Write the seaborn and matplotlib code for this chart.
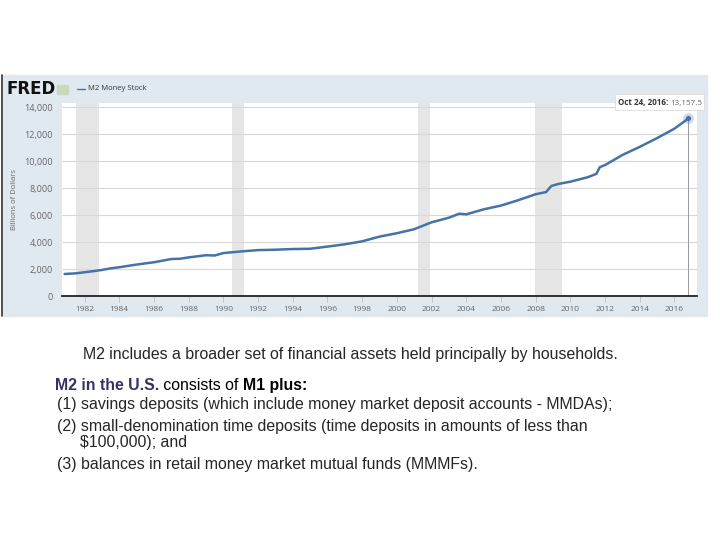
import matplotlib
matplotlib.use("Agg")
import matplotlib.pyplot as plt
import seaborn as sns
import pandas as pd
from matplotlib.patches import Rectangle
from matplotlib.lines import Line2D

# M2 money stock, billions of dollars
years = [1980.85, 1981.5, 1982.0, 1982.5, 1983.0, 1983.5, 1984.0, 1985.0, 1986.0,
         1987.0, 1987.5, 1988.0, 1989.0, 1989.5, 1990.0, 1991.0, 1992.0, 1993.0,
         1994.0, 1995.0, 1996.0, 1997.0, 1998.0, 1999.0, 2000.0, 2001.0, 2002.0,
         2003.0, 2003.6, 2004.0, 2005.0, 2006.0, 2007.0, 2008.0, 2008.6, 2008.9,
         2009.3, 2010.0, 2011.0, 2011.5, 2011.7, 2012.0, 2013.0, 2014.0, 2015.0,
         2016.0, 2016.81]
m2 = [1630, 1680, 1760, 1840, 1930, 2050, 2130, 2330, 2500,
      2740, 2760, 2860, 3020, 3000, 3180, 3300, 3400, 3430,
      3480, 3500, 3660, 3830, 4050, 4400, 4650, 4950, 5460,
      5800, 6100, 6050, 6420, 6700, 7100, 7540, 7700, 8150,
      8300, 8470, 8800, 9050, 9550, 9700, 10450, 11050, 11700,
      12400, 13157.5]

recession_starts = [1981.5, 1990.5, 2001.2, 2007.95]
recession_ends = [1982.85, 1991.2, 2001.9, 2009.5]

x_ticks = list(range(1982, 2017, 2))
y_ticks = [0, 2000, 4000, 6000, 8000, 10000, 12000, 14000]

series_name = "M2 Money Stock"
y_label = "Billions of Dollars"
tooltip_date = "Oct 24, 2016:"
tooltip_value = "13,157.5"

df = pd.DataFrame({"year": years, "m2": m2})

sns.set_style("white")
plt.rcParams["font.family"] = ["Open Sans", "DejaVu Sans"]

W, H = 720, 540
fig = plt.figure(figsize=(7.2, 5.4), dpi=100)


def fx(px):
    return px / W


def fy(py):
    return 1 - py / H


# light blue FRED panel behind the chart
fig.patches.append(Rectangle((fx(3), fy(316)), fx(704), (316 - 75) / H,
                             transform=fig.transFigure, color="#e1e9f0", zorder=-10))
fig.lines.append(Line2D([fx(2), fx(2)], [fy(75), fy(316)], transform=fig.transFigure,
                        color="#333333", lw=1.2, zorder=-5))

ax = fig.add_axes([fx(62), fy(296), fx(635), (296 - 103) / H])
ax.set_zorder(2)
ax.set_facecolor("white")

for s, e in zip(recession_starts, recession_ends):
    ax.axvspan(s, e, color="#e6e6e6", lw=0, zorder=0)

sns.lineplot(data=df, x="year", y="m2", ax=ax, color="#4572a7", lw=1.8, zorder=3)

# crosshair and highlighted last point
last_x, last_y = years[-1], m2[-1]
ax.plot([last_x, last_x], [0, last_y], color="#999999", lw=0.7, zorder=2)
ax.scatter([last_x], [last_y], s=60, color="#4572a7", alpha=0.25, lw=0, zorder=4)
ax.scatter([last_x], [last_y], s=14, color="#4572a7", lw=0, zorder=5)

ax.set_xlim(1980.7, 2017.3)
ax.set_ylim(0, 14300)
ax.set_xticks(x_ticks)
ax.set_xticklabels([str(t) for t in x_ticks])
ax.set_yticks(y_ticks)
ax.set_yticklabels([f"{v:,}" for v in y_ticks])
ax.grid(axis="y", color="#d8d8d8", lw=0.8)
ax.set_axisbelow(True)
for side in ["top", "right", "left"]:
    ax.spines[side].set_visible(False)
ax.spines["bottom"].set_color("#222222")
ax.spines["bottom"].set_linewidth(1.3)
ax.tick_params(axis="x", length=4, width=0.6, color="#bbbbbb", labelsize=6,
               labelcolor="#666666", pad=3, bottom=True)
ax.tick_params(axis="y", length=0, labelsize=6.5, labelcolor="#666666", pad=6.5)
ax.set_xlabel("")
ax.set_ylabel("")

fig.text(fx(15), fy(200), y_label, rotation=90, ha="center", va="center",
         fontsize=5.5, color="#666666")

# FRED header
fig.text(fx(6), fy(89), "FRED", fontsize=12, fontweight="heavy", color="#111111",
         va="center", ha="left", family=["DejaVu Sans"])
fig.patches.append(Rectangle((fx(57), fy(94)), fx(11), 9 / H, transform=fig.transFigure,
                             color="#c9d9c0", zorder=1))
fig.lines.append(Line2D([fx(77), fx(85)], [fy(89), fy(89)], transform=fig.transFigure,
                        color="#4572a7", lw=1))
fig.text(fx(88), fy(89), series_name, fontsize=5.5, color="#333333", va="center", ha="left")

# tooltip
fig.patches.append(Rectangle((fx(615), fy(110)), fx(89), 16 / H, transform=fig.transFigure,
                             facecolor="white", edgecolor="#dddddd", lw=0.6, zorder=5))
fig.canvas.draw()
renderer = fig.canvas.get_renderer()


def runs(x_px, y_px, parts, size, family=None):
    # consecutive text pieces sharing one baseline
    x = x_px
    for txt, weight, color in parts:
        kw = {}
        if family:
            kw["family"] = family
        t = fig.text(fx(x), fy(y_px), txt, fontsize=size, fontweight=weight, color=color,
                     va="baseline", ha="left", zorder=6, **kw)
        bb = t.get_window_extent(renderer=renderer)
        x = x + bb.width
    return x


runs(618, 105, [(tooltip_date + " ", "bold", "#333333"), (tooltip_value, "normal", "#666666")], 5.8)

# explanatory text
body_font = ["Liberation Sans", "DejaVu Sans"]
fs = 11.4
fig.text(fx(83), fy(355), "M2 includes a broader set of financial assets held principally by households.",
         fontsize=fs, family=body_font, va="center", ha="left")
runs(55, 390, [("M2 in the U.S.", "bold", "#333366"), (" consists of ", "normal", "black"),
               ("M1 plus:", "bold", "black")], fs, body_font)
fig.text(fx(57), fy(405), "(1) savings deposits (which include money market deposit accounts - MMDAs);",
         fontsize=fs, family=body_font, va="center", ha="left")
fig.text(fx(57), fy(426), "(2) small-denomination time deposits (time deposits in amounts of less than",
         fontsize=fs, family=body_font, va="center", ha="left")
fig.text(fx(80), fy(443), "$100,000); and",
         fontsize=fs, family=body_font, va="center", ha="left")
fig.text(fx(57), fy(465), "(3) balances in retail money market mutual funds (MMMFs).",
         fontsize=fs, family=body_font, va="center", ha="left")

fig.savefig("out.png", dpi=100)
